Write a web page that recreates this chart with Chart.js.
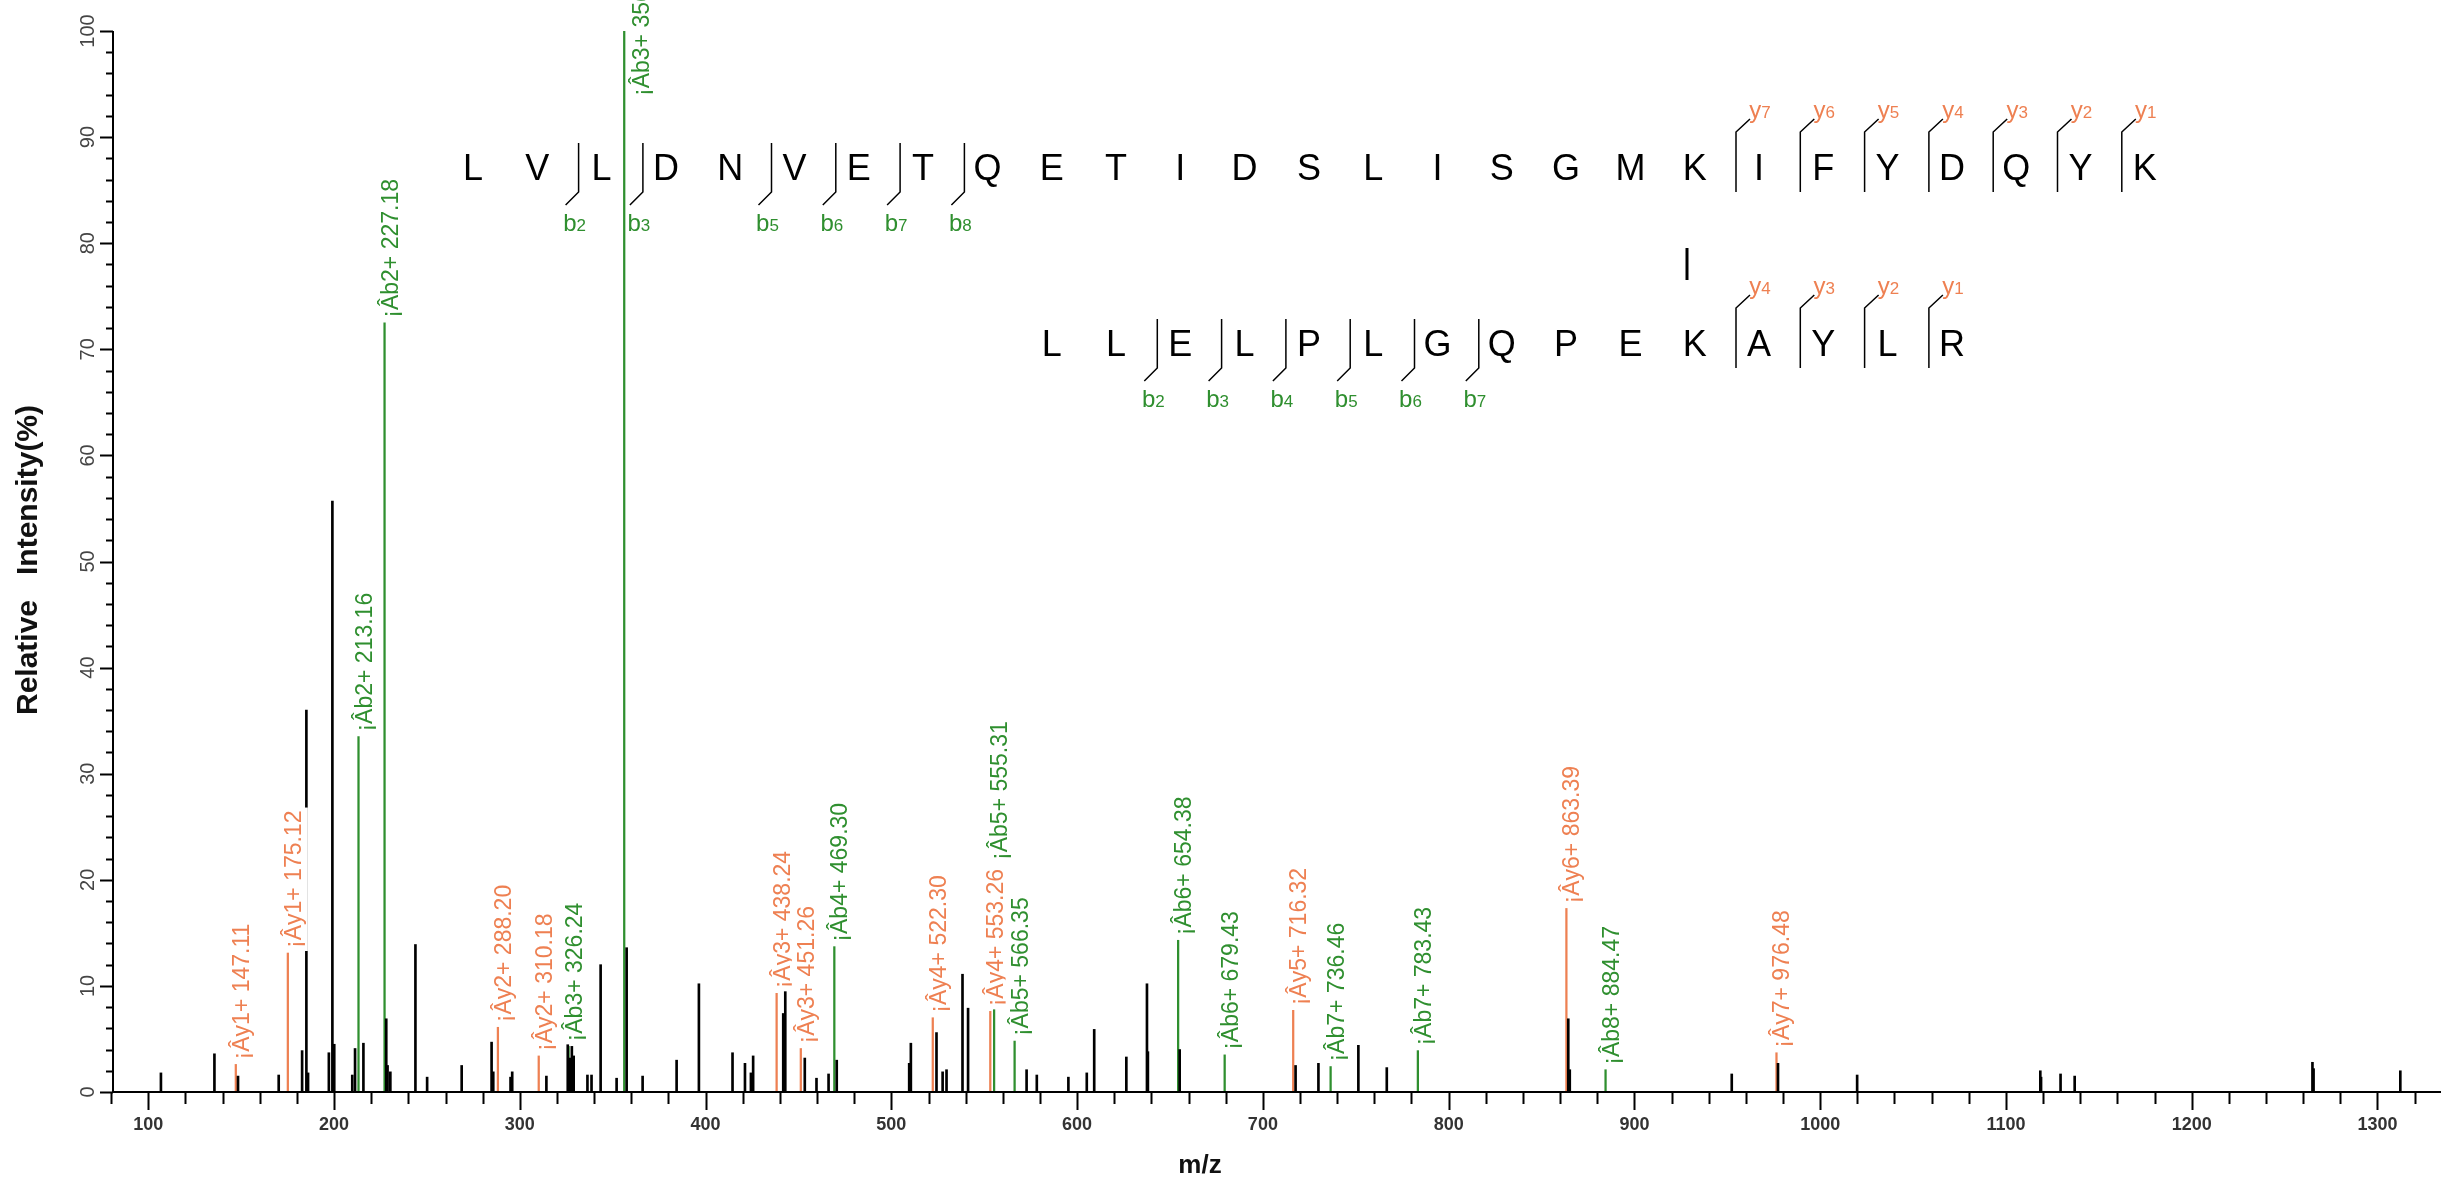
<!DOCTYPE html>
<html><head><meta charset="utf-8">
<script src="https://cdn.jsdelivr.net/npm/chart.js@4.4.0/dist/chart.umd.min.js"></script>
<style>html,body{margin:0;padding:0;background:#fff;overflow:hidden}</style>
</head><body>
<canvas id="c" width="2441" height="1182" style="display:block;width:2441px;height:1182px"></canvas>
<script>
// ---------- data ----------
const otherMz  = [106.8,135.6,148.3,170.2,182.8,185.1,186.0,197.2,199.1,200.1,209.8,211.3,215.8,228.1,228.8,230.3,243.8,250.1,268.7,284.8,285.7,295.0,295.9,314.3,325.8,327.0,328.0,329.0,336.4,338.6,343.5,352.1,357.5,366.1,384.4,396.4,414.5,421.2,424.4,425.6,441.8,442.9,453.4,459.7,466.2,470.6,509.6,510.5,524.3,527.6,529.7,538.3,541.3,572.8,578.3,595.3,605.2,609.2,626.5,637.6,638.1,655.2,717.6,729.9,751.4,766.7,864.4,865.2,952.4,977.3,1019.9,1118.5,1118.9,1129.4,1137.0,1265.0,1265.6,1312.3];
const otherInt = [1.8,3.6,1.5,1.6,3.9,36.0,1.8,3.7,55.7,4.5,1.6,4.1,4.6,6.9,2.5,1.9,13.9,1.4,2.5,4.7,1.9,1.4,1.9,1.5,4.8,3.2,4.3,3.4,1.6,1.6,12.0,1.3,13.6,1.5,3.0,10.2,3.7,2.7,1.8,3.4,7.4,9.8,3.2,1.3,1.7,3.0,2.7,4.6,5.6,1.9,2.1,11.1,7.9,2.1,1.6,1.4,1.8,5.9,3.3,10.2,3.8,4.0,2.5,2.7,4.4,2.3,6.9,2.1,1.7,2.7,1.6,2.0,1.4,1.7,1.5,2.8,2.2,2.0];

const yIonMz     = [147.11,175.12,288.20,310.18,438.24,451.26,522.30,553.26,716.32,863.39,976.48];
const yIonInt    = [2.6,13.1,6.1,3.4,9.3,4.1,7.0,7.6,7.7,17.3,3.7];
const yIonLabels = ['¡Ây1+ 147.11','¡Ây1+ 175.12','¡Ây2+ 288.20','¡Ây2+ 310.18','¡Ây3+ 438.24','¡Ây3+ 451.26','¡Ây4+ 522.30','¡Ây4+ 553.26','¡Ây5+ 716.32','¡Ây6+ 863.39','¡Ây7+ 976.48'];

const bIonMz     = [213.16,227.18,326.24,356.20,469.30,555.31,566.35,654.38,679.43,736.46,783.43,884.47];
const bIonInt    = [33.5,72.5,4.3,100,13.7,7.8,4.8,14.3,3.5,2.4,3.9,2.1];
const bIonLabels = ['¡Âb2+ 213.16','¡Âb2+ 227.18','¡Âb3+ 326.24','¡Âb3+ 356.20','¡Âb4+ 469.30','¡Âb5+ 555.31','¡Âb5+ 566.35','¡Âb6+ 654.38','¡Âb6+ 679.43','¡Âb7+ 736.46','¡Âb7+ 783.43','¡Âb8+ 884.47'];

const xTickLabels = ['100','200','300','400','500','600','700','800','900','1000','1100','1200','1300'];
const yTickLabels = ['0','10','20','30','40','50','60','70','80','90','100'];

const peptideA = 'LVLDNVETQETIDSLISGMKIFYDQYK'.split('');
const peptideB = 'LLELPLGQPEKAYLR'.split('');
const peptideABIons = [2,3,5,6,7,8];
const peptideAYIons = [7,6,5,4,3,2,1];
const peptideBBIons = [2,3,4,5,6,7];
const peptideBYIons = [4,3,2,1];

// ---------- styling / layout ----------
const ORANGE = '#ee8052';
const GREEN  = '#2f8f2f';
const FONT = '"Liberation Sans", Arial, sans-serif';
// labels the software moved away from their peak top: start (intensity units) and sideways shift (px)
const bLabelStart = {3: 93.4, 5: 21.4};
const bLabelShift = {3: 12};

const toXY = (mz, it) => mz.map((m, i) => ({x: m, y: it[i]}));

const axesPlugin = {
  id: 'axes',
  afterDatasetsDraw(chart) {
    const {ctx, chartArea: a, scales: {x, y}} = chart;
    ctx.save();
    ctx.strokeStyle = '#000';
    ctx.lineWidth = 2;
    ctx.beginPath();
    ctx.moveTo(a.left, a.bottom); ctx.lineTo(a.right, a.bottom);
    ctx.moveTo(a.left, a.bottom); ctx.lineTo(a.left, a.top);
    ctx.stroke();
    ctx.beginPath();
    for (let v = 80; v <= x.max; v += 20) {
      const px = Math.round(x.getPixelForValue(v)) + 0.5;
      const len = (v % 100 === 0) ? 18 : 12;
      ctx.moveTo(px, a.bottom); ctx.lineTo(px, a.bottom + len);
    }
    for (let v = 0; v <= 100; v += 2) {
      const py = Math.round(y.getPixelForValue(v)) + 0.5;
      const len = (v % 10 === 0) ? 13 : 7;
      ctx.moveTo(a.left, py); ctx.lineTo(a.left - len, py);
    }
    ctx.stroke();
    ctx.fillStyle = '#333';
    ctx.font = 'bold 18px ' + FONT;
    ctx.textAlign = 'center';
    ctx.textBaseline = 'middle';
    xTickLabels.forEach(t => ctx.fillText(t, x.getPixelForValue(+t), a.bottom + 33));
    ctx.fillStyle = '#444';
    ctx.font = '20px ' + FONT;
    yTickLabels.forEach(t => {
      ctx.save();
      ctx.translate(a.left - 25, y.getPixelForValue(+t));
      ctx.rotate(-Math.PI / 2);
      ctx.fillText(t, 0, 0);
      ctx.restore();
    });
    ctx.fillStyle = '#111';
    ctx.font = 'bold 26px ' + FONT;
    ctx.fillText('m/z', 1200, 1166);
    ctx.save();
    ctx.translate(29, 560);
    ctx.rotate(-Math.PI / 2);
    ctx.font = 'bold 30px ' + FONT;
    ctx.fillText('Relative   Intensity(%)', 0, 0);
    ctx.restore();
    ctx.restore();
  }
};

function peakLabel(ctx, px, py, text, color) {
  ctx.save();
  ctx.translate(px, py);
  ctx.rotate(-Math.PI / 2);
  ctx.font = '23px ' + FONT;
  const w = ctx.measureText(text).width;
  ctx.fillStyle = '#fff';
  ctx.fillRect(0, -9, w + 6, 29);
  ctx.fillStyle = color;
  ctx.textAlign = 'left';
  ctx.textBaseline = 'alphabetic';
  ctx.fillText(text, 3, 13);
  ctx.restore();
}

const labelsPlugin = {
  id: 'peakLabels',
  afterDatasetsDraw(chart) {
    const {ctx, scales: {x, y}} = chart;
    const items = [];
    yIonMz.forEach((m, i) => items.push({m, top: yIonInt[i], text: yIonLabels[i], color: ORANGE, dx: 0}));
    bIonMz.forEach((m, i) => items.push({m,
      top: (bLabelStart[i] !== undefined ? bLabelStart[i] : bIonInt[i]),
      text: bIonLabels[i], color: GREEN, dx: bLabelShift[i] || 0}));
    items.sort((a, b) => a.m - b.m);
    items.forEach(it => peakLabel(ctx, x.getPixelForValue(it.m) + it.dx, y.getPixelForValue(it.top) - 2, it.text, it.color));
  }
};

function ionTag(ctx, cx, baseY, letter, num, color) {
  ctx.font = '24px ' + FONT;
  const w1 = ctx.measureText(letter).width;
  ctx.font = '17px ' + FONT;
  const w2 = ctx.measureText(String(num)).width;
  const x0 = cx - (w1 + w2) / 2;
  ctx.fillStyle = color;
  ctx.textAlign = 'left';
  ctx.textBaseline = 'alphabetic';
  ctx.font = '24px ' + FONT;
  ctx.fillText(letter, x0, baseY);
  ctx.font = '17px ' + FONT;
  ctx.fillText(String(num), x0 + w1, baseY);
}

function drawPeptide(ctx, seq, x0, rowY, bIons, yIons) {
  const step = 64.3;
  ctx.fillStyle = '#000';
  ctx.font = '36px ' + FONT;
  ctx.textAlign = 'center';
  ctx.textBaseline = 'alphabetic';
  seq.forEach((c, i) => ctx.fillText(c, x0 + i * step, rowY + 13));
  ctx.strokeStyle = '#000';
  ctx.lineWidth = 1.5;
  bIons.forEach(n => {
    const mx = x0 + n * step - 23;
    ctx.beginPath();
    ctx.moveTo(mx, rowY - 24); ctx.lineTo(mx, rowY + 25); ctx.lineTo(mx - 13, rowY + 38);
    ctx.stroke();
    ionTag(ctx, mx - 4, rowY + 64, 'b', n, GREEN);
  });
  yIons.forEach(n => {
    const mx = x0 + (seq.length - n) * step - 23;
    ctx.beginPath();
    ctx.moveTo(mx, rowY + 25); ctx.lineTo(mx, rowY - 35); ctx.lineTo(mx + 14, rowY - 48);
    ctx.stroke();
    ionTag(ctx, mx + 24, rowY - 49, 'y', n, ORANGE);
  });
}

const sequencePlugin = {
  id: 'sequence',
  afterDraw(chart) {
    const ctx = chart.ctx;
    ctx.save();
    drawPeptide(ctx, peptideA, 473, 167, peptideABIons, peptideAYIons);
    drawPeptide(ctx, peptideB, 1051.7, 343, peptideBBIons, peptideBYIons);
    ctx.strokeStyle = '#000';
    ctx.lineWidth = 3;
    ctx.beginPath();
    ctx.moveTo(1687, 248); ctx.lineTo(1687, 280);
    ctx.stroke();
    ctx.restore();
  }
};

new Chart(document.getElementById('c').getContext('2d'), {
  type: 'bar',
  data: {
    datasets: [
      {data: toXY(otherMz, otherInt), backgroundColor: '#000', barThickness: 2, grouped: false},
      {data: toXY(yIonMz, yIonInt), backgroundColor: ORANGE, barThickness: 1.6, grouped: false},
      {data: toXY(bIonMz, bIonInt), backgroundColor: GREEN, barThickness: 1.6, grouped: false}
    ]
  },
  options: {
    responsive: false,
    animation: false,
    devicePixelRatio: 1,
    layout: {padding: {left: 113, right: 0, top: 31, bottom: 90}},
    plugins: {legend: {display: false}, tooltip: {enabled: false}},
    scales: {
      x: {type: 'linear', min: 81, max: 1334.2, offset: false, display: false},
      y: {min: 0, max: 100, display: false}
    }
  },
  plugins: [axesPlugin, labelsPlugin, sequencePlugin]
});
</script>
</body></html>
